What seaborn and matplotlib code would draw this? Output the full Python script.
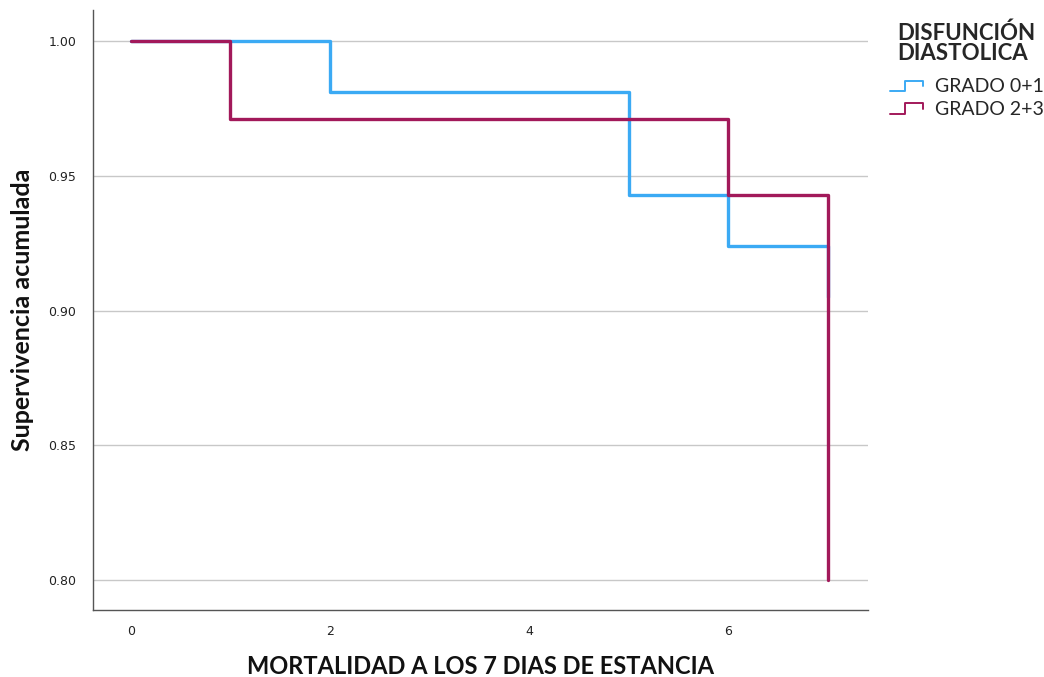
import matplotlib
matplotlib.use("Agg")
import matplotlib.pyplot as plt
from matplotlib.legend_handler import HandlerLine2D
from matplotlib.lines import Line2D
import pandas as pd
import seaborn as sns

# Kaplan-Meier steps: event times (days) and cumulative survival after each event
grado01_time = [0, 2, 5, 6, 7]
grado01_surv = [1.000, 0.981, 0.943, 0.924, 0.905]
grado23_time = [0, 1, 6, 7]
grado23_surv = [1.000, 0.971, 0.943, 0.800]
groups = ["GRADO 0+1", "GRADO 2+3"]
colors = ["#3BAAF4", "#A2195A"]

x_ticks = [0, 2, 4, 6]
y_ticks = [0.80, 0.85, 0.90, 0.95, 1.00]

df = pd.concat([
    pd.DataFrame({"t": grado01_time, "s": grado01_surv, "g": groups[0]}),
    pd.DataFrame({"t": grado23_time, "s": grado23_surv, "g": groups[1]}),
], ignore_index=True)

sns.set_theme(style="white")
plt.rcParams["font.family"] = ["DejaVu Sans"]

fig = plt.figure(figsize=(10.44, 6.77), dpi=100)
ax = fig.add_axes([0.089, 0.099, 0.742, 0.886])

sns.lineplot(data=df, x="t", y="s", hue="g", hue_order=groups,
             palette=colors, drawstyle="steps-post", estimator=None,
             sort=False, linewidth=2.4, ax=ax, legend=False)

ax.set_xlim(-0.382, 7.40)
ax.set_ylim(0.7889, 1.0115)
ax.set_xticks(x_ticks)
ax.set_xticklabels([str(v) for v in x_ticks])
ax.set_yticks(y_ticks)
ax.set_yticklabels([f"{v:.2f}" for v in y_ticks])
ax.tick_params(axis="both", length=0, labelsize=9, colors="#222222")
ax.tick_params(axis="x", pad=11)
ax.tick_params(axis="y", pad=12)
ax.yaxis.grid(True, color="#C8C8C8", linewidth=1.0)
ax.set_axisbelow(True)

for side in ["top", "right"]:
    ax.spines[side].set_visible(False)
for side in ["left", "bottom"]:
    ax.spines[side].set_color("#555555")
    ax.spines[side].set_linewidth(1.0)

ax.set_xlabel("MORTALIDAD A LOS 7 DIAS DE ESTANCIA", labelpad=12,
              family=["Lato", "DejaVu Sans"], fontweight="bold",
              fontsize=17, color="#111111")
ax.set_ylabel("Supervivencia acumulada", labelpad=10,
              family=["Lato", "DejaVu Sans"], fontweight="bold",
              fontsize=18, color="#111111")


class StepHandler(HandlerLine2D):
    """Draws a small step shape as the legend key."""
    def create_artists(self, legend, orig_handle, xdescent, ydescent,
                       width, height, fontsize, trans):
        x0 = -xdescent
        y0 = -ydescent
        xs = [x0, x0 + width * 0.45, x0 + width * 0.45, x0 + width, x0 + width]
        ys = [y0 + height * 0.1, y0 + height * 0.1, y0 + height * 0.85,
              y0 + height * 0.85, y0 + height * 0.45]
        line = Line2D(xs, ys, color=orig_handle.get_color(), linewidth=1.4,
                      transform=trans)
        return [line]


handles = [Line2D([], [], color=c) for c in colors]
leg = fig.legend(handles, groups, loc="upper left",
                 bbox_to_anchor=(0.845, 0.978), frameon=False,
                 handler_map={Line2D: StepHandler()},
                 handlelength=1.7, handletextpad=0.6, labelspacing=0.3,
                 borderaxespad=0.0,
                 prop={"family": ["Lato", "DejaVu Sans"], "size": 14},
                 title="DISFUNCIÓN\nDIASTOLICA",
                 title_fontproperties={"family": ["Lato", "DejaVu Sans"],
                                       "weight": "bold", "size": 16})
leg.get_title().set_linespacing(0.95)
leg._legend_box.sep = 10

fig.savefig("out.png", dpi=100)
